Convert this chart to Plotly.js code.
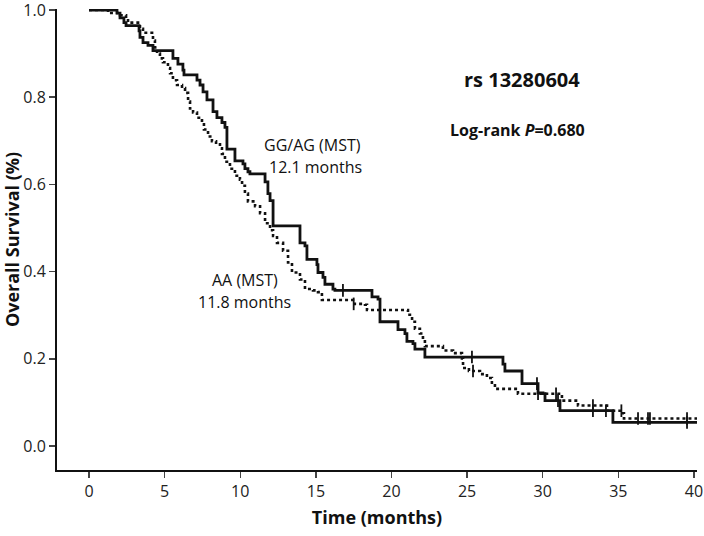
<!DOCTYPE html>
<html>
<head>
<meta charset="utf-8">
<script src="https://cdn.plot.ly/plotly-3.0.1.min.js"></script>
<style>
  body { margin: 0; background: #fff; }
  #km { width: 704px; height: 536px; }
</style>
</head>
<body>
<div id="km"></div>
<script>
// GG/AG (solid) - event times and survival after each drop
let ggTimes = [0, 1.85, 2.05, 2.31, 2.45, 3.31, 3.37, 3.57, 3.90, 4.23, 5.55, 5.88, 6.21, 6.28,
    7.14, 7.34, 7.54, 7.80, 8.20, 8.46, 8.79, 8.99, 9.12, 9.65, 10.18, 10.31, 10.51, 10.64,
    11.64, 11.83, 11.97, 12.17, 13.95, 14.28, 14.41, 15.07, 15.14, 15.47, 15.60, 16.13, 16.26,
    18.71, 19.11, 19.24, 20.43, 20.89, 21.02, 21.42, 21.55, 22.21, 27.37, 27.50, 28.63, 29.69,
    30.02, 30.15, 31.14, 34.64, 40.2];
let ggSurv = [1.0, 0.993, 0.982, 0.971, 0.964, 0.952, 0.937, 0.925, 0.919, 0.907, 0.889, 0.876, 0.862, 0.851,
    0.839, 0.828, 0.812, 0.794, 0.767, 0.753, 0.742, 0.731, 0.681, 0.654, 0.647, 0.636, 0.629, 0.624,
    0.606, 0.579, 0.563, 0.505, 0.466, 0.459, 0.428, 0.416, 0.398, 0.387, 0.371, 0.360, 0.357,
    0.342, 0.337, 0.285, 0.267, 0.258, 0.240, 0.235, 0.222, 0.204, 0.188, 0.172, 0.143, 0.122,
    0.120, 0.104, 0.081, 0.054, 0.054];
let ggCensT = [16.79, 25.32, 29.62, 31.01, 33.32, 34.18, 39.54];
let ggCensS = [0.357, 0.204, 0.143, 0.104, 0.081, 0.081, 0.054];

// AA (dotted)
let aaTimes = [0, 1.26, 2.05, 2.45, 2.58, 3.37, 3.57, 4.17, 4.23, 4.36, 4.50, 4.69, 4.89, 5.22, 5.36,
    5.55, 5.82, 6.15, 6.35, 6.55, 6.68, 6.88, 7.14, 7.47, 7.60, 7.87, 8.13, 8.40, 8.66, 8.79,
    8.99, 9.32, 9.65, 9.98, 10.12, 10.31, 10.51, 10.98, 11.31, 11.64, 11.97, 12.17, 12.43, 12.83,
    13.16, 13.42, 13.95, 14.28, 14.81, 15.14, 15.40, 17.45, 18.25, 18.38, 21.09, 21.36, 21.55,
    21.88, 22.08, 22.21, 23.40, 24.07, 24.66, 24.73, 25.12, 25.85, 26.31, 26.64, 26.84, 28.36,
    31.27, 32.33, 34.25, 35.11, 35.37, 40.2];
let aaSurv = [1.0, 0.993, 0.988, 0.980, 0.971, 0.957, 0.948, 0.941, 0.930, 0.914, 0.900, 0.889, 0.880, 0.867, 0.855,
    0.839, 0.828, 0.821, 0.810, 0.790, 0.774, 0.765, 0.753, 0.742, 0.726, 0.710, 0.699, 0.692, 0.683, 0.670,
    0.652, 0.636, 0.620, 0.611, 0.597, 0.579, 0.561, 0.550, 0.534, 0.511, 0.495, 0.482, 0.466, 0.448,
    0.421, 0.398, 0.382, 0.360, 0.357, 0.353, 0.335, 0.326, 0.324, 0.312, 0.301, 0.285, 0.269,
    0.258, 0.244, 0.229, 0.219, 0.213, 0.201, 0.179, 0.172, 0.165, 0.156, 0.145, 0.131, 0.120,
    0.104, 0.093, 0.081, 0.075, 0.063, 0.063];
let aaCensT = [17.50, 25.39, 29.69, 30.88, 33.32, 35.20, 36.30, 36.96, 37.09, 39.54];
let aaCensS = [0.326, 0.172, 0.120, 0.120, 0.093, 0.081, 0.063, 0.063, 0.063, 0.063];

let xTicks = [0, 5, 10, 15, 20, 25, 30, 35, 40];
let yTicks = [0.0, 0.2, 0.4, 0.6, 0.8, 1.0];

let fonte = '"Open Sans", "Noto Sans", sans-serif';

let curvaGG = {
    x: ggTimes, y: ggSurv, mode: 'lines', line: { shape: 'hv', color: '#111', width: 2.8 },
    cliponaxis: false, hoverinfo: 'skip'
};
let curvaAA = {
    x: aaTimes, y: aaSurv, mode: 'lines', line: { shape: 'hv', color: '#111', width: 2.6, dash: 'dot' },
    cliponaxis: false, hoverinfo: 'skip'
};
let censGG = {
    x: ggCensT, y: ggCensS, mode: 'markers',
    marker: { symbol: 'line-ns', size: 9, line: { color: '#111', width: 1.8 } },
    cliponaxis: false, hoverinfo: 'skip'
};
let censAA = {
    x: aaCensT, y: aaCensS, mode: 'markers',
    marker: { symbol: 'line-ns', size: 9, line: { color: '#111', width: 1.8 } },
    cliponaxis: false, hoverinfo: 'skip'
};

let layout = {
    width: 704, height: 536,
    margin: { l: 57, r: 7, t: 9, b: 66 },
    paper_bgcolor: '#fff', plot_bgcolor: '#fff',
    showlegend: false,
    font: { family: fonte, color: '#222', size: 16 },
    xaxis: {
        range: [-2.116, 40.2], tickvals: xTicks, ticks: 'outside', ticklen: 6, tickwidth: 1.5,
        showline: true, linewidth: 2, linecolor: '#111', showgrid: false, zeroline: false,
        tickfont: { size: 16 },
        title: { text: '<b>Time (months)</b>', font: { size: 18, color: '#111' }, standoff: 10 }
    },
    yaxis: {
        range: [-0.055, 1.0023], tickvals: yTicks, tickformat: '.1f', ticks: 'outside', ticklen: 6, tickwidth: 1.5,
        ticklabeloverflow: 'allow',
        showline: true, linewidth: 2, linecolor: '#111', showgrid: false, zeroline: false,
        tickfont: { size: 16 },
        title: { text: '<b>Overall Survival (%)</b>', font: { size: 18, color: '#111' }, standoff: 5 }
    },
    annotations: [
        { x: 28.6, y: 0.84, xref: 'x', yref: 'y', showarrow: false, text: '<b>rs 13280604</b>', font: { size: 20, color: '#111' } },
        { x: 28.3, y: 0.725, xref: 'x', yref: 'y', showarrow: false, text: '<b>Log-rank <i>P</i>=0.680</b>', font: { size: 16, color: '#111' } },
        { x: 14.8, y: 0.69, xref: 'x', yref: 'y', showarrow: false, text: 'GG/AG (MST)', font: { size: 16, color: '#111' } },
        { x: 15.0, y: 0.64, xref: 'x', yref: 'y', showarrow: false, text: '12.1 months', font: { size: 16, color: '#111' } },
        { x: 10.3, y: 0.38, xref: 'x', yref: 'y', showarrow: false, text: 'AA (MST)', font: { size: 16, color: '#111' } },
        { x: 10.3, y: 0.33, xref: 'x', yref: 'y', showarrow: false, text: '11.8 months', font: { size: 16, color: '#111' } }
    ]
};

Plotly.newPlot('km', [curvaGG, curvaAA, censGG, censAA], layout, { staticPlot: true });
</script>
</body>
</html>
